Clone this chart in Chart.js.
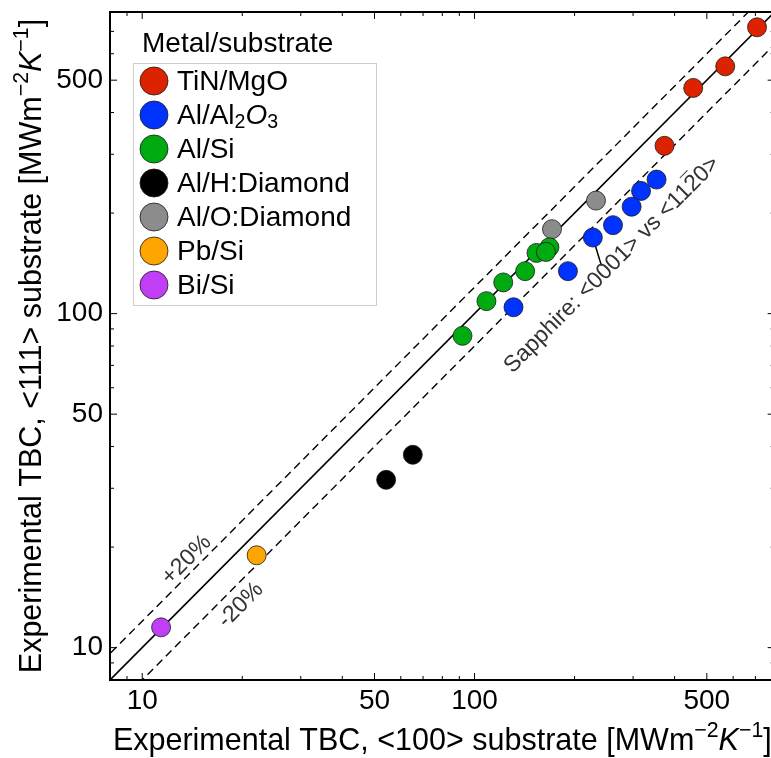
<!DOCTYPE html>
<html>
<head>
<meta charset="utf-8">
<script src="https://cdn.jsdelivr.net/npm/chart.js@4.4.1/dist/chart.umd.min.js"></script>
<style>
  body { margin: 0; background: #fff; }
  canvas { display: block; }
</style>
</head>
<body>
<canvas id="grafico" width="771" height="758"></canvas>
<script>
var FONT = '"Liberation Sans", Arial, sans-serif';

// gruppi metallo/substrato
var serie = ['TiN/MgO', 'Al/Al2O3', 'Al/Si', 'Al/H:Diamond', 'Al/O:Diamond', 'Pb/Si', 'Bi/Si'];
var colori = ['#dd2200', '#0033ff', '#00aa11', '#000000', '#8c8c8c', '#ffa500', '#c03ef5'];

// valori (x = <100>, y = <111>)
var tinX = [708, 568, 455, 373];
var tinY = [720, 550, 474, 318];
var zaffiroX = [353, 317, 297, 261, 227, 191, 131];
var zaffiroY = [252, 233, 209, 184, 169, 134, 104.5];
var siX = [92, 108.6, 122, 142, 168, 153.6, 164];
var siY = [85.8, 109, 124, 134, 158, 152, 153];
var diamHX = [54.2, 65.2];
var diamHY = [31.8, 37.8];
var diamOX = [171, 232];
var diamOY = [179, 218];
var pbX = [22.1];
var pbY = [18.9];
var biX = [11.4];
var biY = [11.5];

var tickMaggiori = [10, 50, 100, 500];
var tickMinori = [9, 20, 30, 40, 60, 70, 80, 90, 200, 300, 400, 600, 700];
var rapporti = [1, 1.2, 0.8];          // y = x, +20%, -20%
var limiti = [8, 800];
var connettore = [[227, 169], [241, 139]];

// testi in coordinate dati
var notaZaffiro = { testo: 'Sapphire: <0001> vs <11', barra: '2', fine: '0>', x: 130, y: 66 };
var notaPiu = { testo: '+20%', x: 13.6, y: 18.3 };
var notaMeno = { testo: '-20%', x: 19.8, y: 13.4 };

var etichette = [
  [{t: 'TiN/MgO'}],
  [{t: 'Al/Al'}, {t: '2', sub: true}, {t: 'O', it: true}, {t: '3', sub: true}],
  [{t: 'Al/Si'}],
  [{t: 'Al/H:Diamond'}],
  [{t: 'Al/O:Diamond'}],
  [{t: 'Pb/Si'}],
  [{t: 'Bi/Si'}]
];

function unita(sub) {
  return [{t: 'Experimental TBC, ' + sub + ' substrate [MWm'}, {t: '\u22122', sup: true},
          {t: 'K', it: true}, {t: '\u22121', sup: true}, {t: ']'}];
}

function punti(xs, ys) {
  return xs.map(function(x, i) { return {x: x, y: ys[i]}; });
}

function fontRun(r, size) {
  var s = (r.sup || r.sub) ? size * 0.7 : size;
  return (r.it ? 'italic ' : '') + s + 'px ' + FONT;
}
function larghezzaRuns(ctx, runs, size) {
  var w = 0;
  runs.forEach(function(r) { ctx.font = fontRun(r, size); w += ctx.measureText(r.t).width; });
  return w;
}
function disegnaRuns(ctx, runs, x, y, size) {
  runs.forEach(function(r) {
    ctx.font = fontRun(r, size);
    var dy = r.sup ? -size * 0.42 : (r.sub ? size * 0.22 : 0);
    ctx.fillText(r.t, x, y + dy);
    x += ctx.measureText(r.t).width;
  });
}

var gruppi = [
  [tinX, tinY], [zaffiroX, zaffiroY], [siX, siY], [diamHX, diamHY],
  [diamOX, diamOY], [pbX, pbY], [biX, biY]
];

var datasets = [];
rapporti.forEach(function(r) {
  datasets.push({
    data: [{x: limiti[0] / 2, y: limiti[0] / 2 * r}, {x: limiti[1] * 2, y: limiti[1] * 2 * r}],
    showLine: true,
    borderColor: '#000',
    borderWidth: r === 1 ? 1.6 : 1.4,
    borderDash: r === 1 ? [] : [8, 5],
    pointRadius: 0,
    order: 3
  });
});
datasets.push({
  data: connettore.map(function(p) { return {x: p[0], y: p[1]}; }),
  showLine: true,
  borderColor: '#000',
  borderWidth: 1.5,
  pointRadius: 0,
  order: 2
});
gruppi.forEach(function(g, i) {
  datasets.push({
    label: serie[i],
    data: punti(g[0], g[1]),
    backgroundColor: colori[i],
    borderColor: '#1a1a1a',
    borderWidth: 0.8,
    pointRadius: 9.5,
    order: 0
  });
});

var cornice = {
  id: 'cornice',
  afterDraw: function(chart) {
    var ctx = chart.ctx;
    var a = chart.chartArea;
    var sx = chart.scales.x, sy = chart.scales.y;
    var destra = sx.getPixelForValue(limiti[1]);

    ctx.save();
    ctx.strokeStyle = '#000';
    ctx.lineWidth = 2;
    ctx.beginPath();
    ctx.moveTo(destra, a.top);
    ctx.lineTo(a.left, a.top);
    ctx.lineTo(a.left, a.bottom);
    ctx.lineTo(destra, a.bottom);
    ctx.lineTo(destra, a.top);
    ctx.stroke();

    // tacche verso l'interno, su tutti e quattro i lati
    ctx.lineWidth = 1;
    function tacche(valori, lung) {
      valori.forEach(function(v) {
        var px = sx.getPixelForValue(v), py = sy.getPixelForValue(v);
        ctx.beginPath();
        ctx.moveTo(px, a.bottom); ctx.lineTo(px, a.bottom - lung);
        ctx.moveTo(px, a.top); ctx.lineTo(px, a.top + lung);
        ctx.moveTo(a.left, py); ctx.lineTo(a.left + lung, py);
        ctx.moveTo(destra, py); ctx.lineTo(destra - lung, py);
        ctx.stroke();
      });
    }
    tacche(tickMaggiori, 7);
    tacche(tickMinori, 4);

    // angolo della diagonale
    var p1x = sx.getPixelForValue(10), p1y = sy.getPixelForValue(10);
    var p2x = sx.getPixelForValue(100), p2y = sy.getPixelForValue(100);
    var ang = Math.atan2(p2y - p1y, p2x - p1x);

    ctx.fillStyle = '#333';
    ctx.font = '23px ' + FONT;
    [notaPiu, notaMeno].forEach(function(n) {
      ctx.save();
      ctx.translate(sx.getPixelForValue(n.x), sy.getPixelForValue(n.y));
      ctx.rotate(ang);
      ctx.textAlign = 'center';
      ctx.textBaseline = 'middle';
      ctx.fillText(n.testo, 0, 0);
      ctx.restore();
    });

    ctx.save();
    ctx.translate(sx.getPixelForValue(notaZaffiro.x), sy.getPixelForValue(notaZaffiro.y));
    ctx.rotate(ang);
    ctx.textAlign = 'left';
    ctx.textBaseline = 'alphabetic';
    var w0 = ctx.measureText(notaZaffiro.testo).width;
    var w1 = ctx.measureText(notaZaffiro.barra).width;
    ctx.fillText(notaZaffiro.testo + notaZaffiro.barra + notaZaffiro.fine, 0, 0);
    ctx.strokeStyle = '#333';
    ctx.lineWidth = 1;
    ctx.beginPath();
    ctx.moveTo(w0 + 1, -19.5);
    ctx.lineTo(w0 + w1 - 1, -19.5);
    ctx.stroke();
    ctx.restore();

    // legenda
    ctx.fillStyle = '#000';
    ctx.textAlign = 'left';
    ctx.textBaseline = 'middle';
    ctx.font = '28px ' + FONT;
    ctx.fillText('Metal/substrate', 142, 44);
    ctx.strokeStyle = '#cccccc';
    ctx.lineWidth = 1;
    ctx.strokeRect(133.5, 63.5, 243, 242);
    etichette.forEach(function(runs, i) {
      var y = 81 + i * 34;
      ctx.beginPath();
      ctx.arc(154, y, 14, 0, Math.PI * 2);
      ctx.fillStyle = colori[i];
      ctx.fill();
      ctx.strokeStyle = '#1a1a1a';
      ctx.lineWidth = 0.8;
      ctx.stroke();
      ctx.fillStyle = '#000';
      ctx.textBaseline = 'middle';
      disegnaRuns(ctx, runs, 177, y + 1, 28);
    });

    // titoli degli assi
    ctx.textBaseline = 'alphabetic';
    var tx = unita('<100>');
    var wx = larghezzaRuns(ctx, tx, 30.5);
    disegnaRuns(ctx, tx, (a.left + destra) / 2 - wx / 2, 750, 30.5);

    var ty = unita('<111>');
    var wy = larghezzaRuns(ctx, ty, 30.5);
    ctx.save();
    ctx.translate(41, (a.top + a.bottom) / 2);
    ctx.rotate(-Math.PI / 2);
    disegnaRuns(ctx, ty, -wy / 2, 0, 30.5);
    ctx.restore();

    ctx.restore();
  }
};

function soloMaggiori(scale) {
  scale.ticks = tickMaggiori.map(function(v) { return {value: v}; });
}

new Chart(document.getElementById('grafico'), {
  type: 'scatter',
  data: { datasets: datasets },
  options: {
    responsive: false,
    animation: false,
    devicePixelRatio: 1,
    layout: { autoPadding: false, padding: { top: 12, left: 0, right: 0, bottom: 0 } },
    plugins: { legend: { display: false }, tooltip: { enabled: false } },
    scales: {
      x: {
        type: 'logarithmic',
        min: limiti[0],
        max: 780,
        afterBuildTicks: soloMaggiori,
        afterFit: function(s) { s.height = 78; s.paddingLeft = 0; s.paddingRight = 0; },
        grid: { display: false, drawTicks: false },
        border: { display: false },
        ticks: {
          autoSkip: false, maxRotation: 0, padding: 4, color: '#000',
          font: { family: FONT, size: 28 },
          callback: function(v) { return String(v); }
        }
      },
      y: {
        type: 'logarithmic',
        min: limiti[0],
        max: limiti[1],
        afterBuildTicks: soloMaggiori,
        afterFit: function(s) { s.width = 110; s.paddingTop = 0; s.paddingBottom = 0; },
        grid: { display: false, drawTicks: false },
        border: { display: false },
        ticks: {
          autoSkip: false, padding: 7, color: '#000',
          font: { family: FONT, size: 28 },
          callback: function(v) { return String(v); }
        }
      }
    }
  },
  plugins: [cornice]
});
</script>
</body>
</html>
